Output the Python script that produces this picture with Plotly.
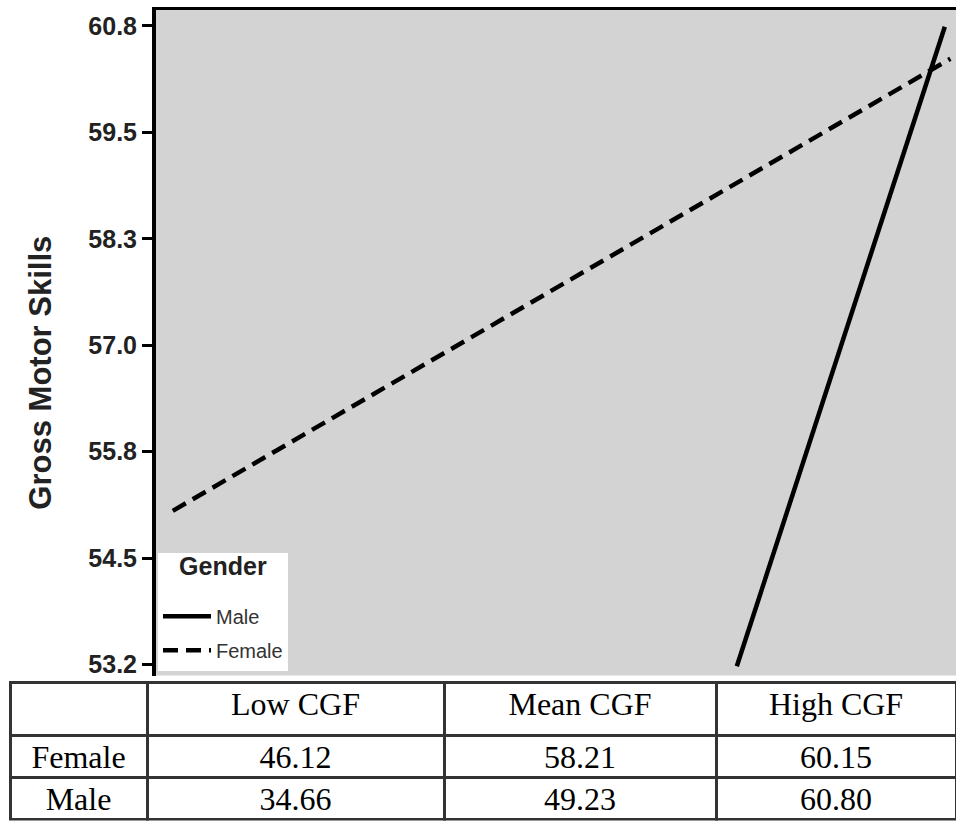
import numpy as np
import plotly.graph_objects as go

# ---- data ----
cgf_levels = ["Low CGF", "Mean CGF", "High CGF"]
female_table = [46.12, 58.21, 60.15]
male_table = [34.66, 49.23, 60.80]
row_labels = ["Female", "Male"]

# plotted simple-slope lines (hidden CGF axis, 0-100 scale)
male_x = [72.6, 98.6]
male_y = [53.18, 60.79]
female_x = [2.1, 99.3]
female_y = [55.03, 60.41]

y_tick_labels = ["53.2", "54.5", "55.8", "57.0", "58.3", "59.5", "60.8"]
y_tick_vals = list(np.linspace(53.2, 60.8, len(y_tick_labels)))

W, H = 956, 824

fig = go.Figure()
fig.add_trace(go.Scatter(x=male_x, y=male_y, mode="lines", name="Male",
                         legendgroup="m",
                         line=dict(color="black", width=4.5)))
fig.add_trace(go.Scatter(x=female_x, y=female_y, mode="lines", name="Female",
                         legendgroup="f",
                         line=dict(color="black", width=4.5, dash="15px,8px")))

fig.add_trace(go.Table(
    domain=dict(x=[10 / W, 1.0], y=[0, 139 / H]),
    columnwidth=[137, 297, 272, 240],
    header=dict(values=[""] + cgf_levels, height=53,
                fill_color="white", line=dict(color="#333333", width=3),
                align="center",
                font=dict(family="Liberation Serif, Times New Roman, serif", size=32, color="black")),
    cells=dict(values=[row_labels,
                       [female_table[0], male_table[0]],
                       [female_table[1], male_table[1]],
                       [female_table[2], male_table[2]]],
               format=["", ".2f", ".2f", ".2f"],
               height=42, fill_color="white", line=dict(color="#333333", width=3),
               align="center",
               font=dict(family="Liberation Serif, Times New Roman, serif", size=32, color="black")),
))

fig.update_layout(
    width=W, height=H,
    margin=dict(l=0, r=0, t=0, b=0),
    paper_bgcolor="white",
    plot_bgcolor="#d3d3d3",
    showlegend=True,
    legend=dict(x=158 / W, y=151 / H, xanchor="left", yanchor="bottom",
                bgcolor="white", borderwidth=0, itemwidth=48, tracegroupgap=5,
                font=dict(family="Liberation Sans, Arial, sans-serif", size=20, color="#333333"),
                title=dict(text="<span style='font-size:25px'><b>Gender</b></span><br> ",
                           side="top center",
                           font=dict(family="Liberation Sans, Arial, sans-serif", size=17, color="#222222"))),
    xaxis=dict(domain=[156 / W, 1.0], range=[0, 100], side="top",
               showline=True, linecolor="black", linewidth=3,
               showticklabels=False, ticks="", showgrid=False, zeroline=False),
    yaxis=dict(domain=[146 / H, 1 - 10 / H], range=[53.07, 60.99],
               showline=True, linecolor="black", linewidth=4,
               ticks="outside", ticklen=10, tickwidth=3, tickcolor="black",
               tickvals=y_tick_vals, ticktext=y_tick_labels,
               tickfont=dict(family="Liberation Sans, Arial, sans-serif", size=25, color="#222222", weight="bold"),
               showgrid=False, zeroline=False),
    annotations=[dict(text="<b>Gross Motor Skills</b>", textangle=-90,
                      xref="paper", yref="paper", x=41 / W, y=(H - 374) / H,
                      xanchor="center", yanchor="middle",
                      showarrow=False,
                      font=dict(family="Liberation Sans, Arial, sans-serif", size=31, color="#222222"))],
)

fig.write_html("out.html", config={"displayModeBar": False},
               post_script="document.body.style.margin='0';document.body.style.overflow='hidden';")
